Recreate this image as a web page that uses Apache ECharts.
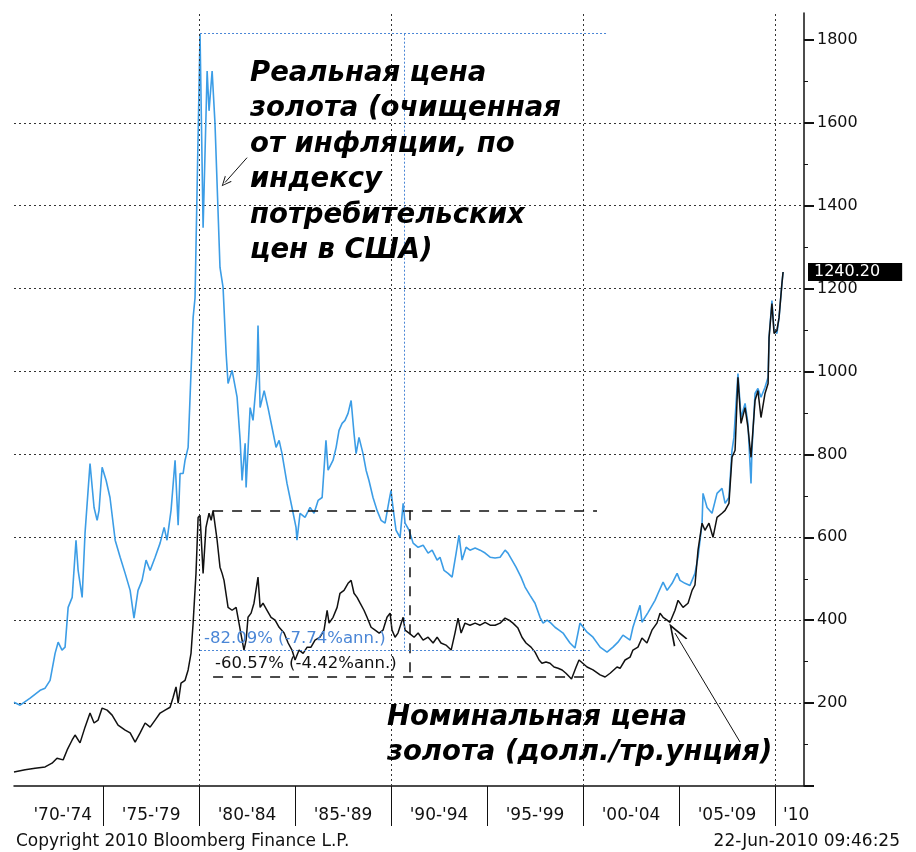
<!DOCTYPE html>
<html><head><meta charset="utf-8">
<script src="https://cdn.jsdelivr.net/npm/echarts@6/dist/echarts.min.js"></script>
<style>html,body{margin:0;padding:0;background:#fff}#c{width:916px;height:852px}</style>
</head><body><div id="c"></div>
<script>
// Real (inflation-adjusted, CPI) gold price, [year, USD]
const realPrice = [
[1970.36,202],[1970.68,195],[1971.20,212],[1971.72,231],[1971.98,236],[1972.24,255],[1972.50,320],[1972.66,347],[1972.86,328],[1973.02,335],
[1973.18,431],[1973.39,455],[1973.59,593],[1973.70,520],[1973.91,455],[1974.06,610],[1974.32,778],[1974.53,672],[1974.69,641],[1974.79,665],
[1974.95,769],[1975.16,737],[1975.36,696],[1975.63,593],[1975.89,552],[1976.15,513],[1976.41,472],[1976.61,405],[1976.82,472],[1977.03,496],
[1977.24,545],[1977.45,520],[1977.71,552],[1977.97,586],[1978.18,624],[1978.33,593],[1978.54,665],[1978.75,786],[1978.91,629],[1979.01,754],
[1979.17,754],[1979.27,786],[1979.43,817],[1979.69,1130],[1979.79,1178],[1980.05,1815],[1980.21,1347],[1980.42,1725],[1980.52,1629],[1980.68,1725],
[1980.83,1598],[1981.09,1251],[1981.25,1203],[1981.41,1043],[1981.51,971],[1981.72,1003],[1981.98,938],[1982.14,834],[1982.24,737],[1982.40,827],
[1982.45,720],[1982.66,913],[1982.81,882],[1983.02,995],[1983.07,1111],[1983.18,913],[1983.39,954],[1983.59,913],[1983.80,865],[1984.01,817],
[1984.17,834],[1984.32,802],[1984.58,730],[1984.84,672],[1985.05,624],[1985.10,593],[1985.26,658],[1985.52,648],[1985.78,672],[1985.99,658],
[1986.20,689],[1986.41,696],[1986.61,834],[1986.72,762],[1986.98,786],[1987.14,817],[1987.29,858],[1987.45,875],[1987.60,882],[1987.76,899],
[1987.92,930],[1988.07,851],[1988.18,802],[1988.33,841],[1988.54,802],[1988.70,762],[1988.85,737],[1989.06,696],[1989.27,665],[1989.48,641],
[1989.69,634],[1989.90,689],[1990.00,713],[1990.10,672],[1990.26,617],[1990.47,600],[1990.63,682],[1990.73,634],[1990.94,617],[1991.15,586],
[1991.41,576],[1991.67,581],[1991.93,562],[1992.14,569],[1992.40,545],[1992.55,552],[1992.76,520],[1992.97,513],[1993.18,504],[1993.39,562],
[1993.54,605],[1993.70,545],[1993.91,576],[1994.11,569],[1994.38,574],[1994.64,569],[1994.90,562],[1995.16,552],[1995.42,550],[1995.68,552],
[1995.94,569],[1996.09,562],[1996.30,545],[1996.51,528],[1996.77,504],[1996.98,480],[1997.24,460],[1997.50,441],[1997.76,407],[1997.92,393],
[1998.13,400],[1998.33,393],[1998.54,383],[1998.75,376],[1998.96,369],[1999.11,359],[1999.32,345],[1999.58,333],[1999.84,393],[2000.21,371],
[2000.52,359],[2000.89,335],[2001.25,323],[2001.56,335],[2001.82,347],[2002.08,364],[2002.45,352],[2002.60,383],[2002.97,436],[2003.07,395],
[2003.39,419],[2003.75,448],[2003.91,465],[2004.17,492],[2004.38,472],[2004.64,489],[2004.90,513],[2005.05,496],[2005.31,489],[2005.57,484],
[2005.83,513],[2005.99,552],[2006.20,634],[2006.25,706],[2006.46,672],[2006.72,658],[2006.98,706],[2007.24,718],[2007.40,682],[2007.60,696],
[2007.76,810],[2007.86,841],[2008.07,995],[2008.23,889],[2008.44,923],[2008.59,875],[2008.75,730],[2008.80,810],[2008.96,947],[2009.11,959],
[2009.27,938],[2009.48,962],[2009.64,986],[2009.69,1082],[2009.84,1171],[2009.95,1099],[2010.10,1092],[2010.21,1130],[2010.36,1212],[2010.42,1240.2]
];
// Nominal gold price, USD per troy ounce, [year, USD]
const nominalPrice = [
[1970.36,34],[1970.94,39],[1971.46,43],[1971.98,46],[1972.34,55],[1972.60,67],[1972.92,63],[1973.13,87],[1973.39,111],[1973.54,123],
[1973.80,104],[1974.06,142],[1974.32,176],[1974.53,152],[1974.74,159],[1974.95,188],[1975.21,183],[1975.47,171],[1975.78,147],[1976.15,135],
[1976.41,128],[1976.67,106],[1976.93,128],[1977.19,152],[1977.45,142],[1977.71,159],[1977.97,176],[1978.23,183],[1978.49,190],[1978.65,214],
[1978.80,239],[1978.91,200],[1979.06,248],[1979.27,255],[1979.43,280],[1979.58,320],[1979.69,393],[1979.84,513],[1979.95,648],[1980.05,653],
[1980.21,513],[1980.36,624],[1980.52,658],[1980.63,641],[1980.73,665],[1980.94,593],[1981.09,528],[1981.20,513],[1981.30,496],[1981.51,431],
[1981.72,424],[1981.93,431],[1982.08,393],[1982.24,352],[1982.34,328],[1982.45,352],[1982.55,407],[1982.71,417],[1982.86,441],[1983.07,504],
[1983.18,431],[1983.33,441],[1983.54,424],[1983.75,407],[1983.96,400],[1984.17,383],[1984.43,369],[1984.64,345],[1984.84,328],[1985.00,304],
[1985.21,328],[1985.42,320],[1985.63,335],[1985.83,335],[1986.04,352],[1986.30,359],[1986.51,376],[1986.67,424],[1986.77,393],[1986.98,407],
[1987.19,431],[1987.34,465],[1987.55,472],[1987.76,489],[1987.92,496],[1988.07,465],[1988.23,455],[1988.39,441],[1988.59,424],[1988.75,407],
[1988.96,383],[1989.17,376],[1989.38,369],[1989.58,376],[1989.79,407],[1989.95,417],[1990.05,376],[1990.21,359],[1990.36,369],[1990.63,407],
[1990.73,376],[1990.94,369],[1991.20,359],[1991.41,369],[1991.67,352],[1991.93,359],[1992.19,345],[1992.40,359],[1992.60,345],[1992.86,340],
[1993.13,328],[1993.33,369],[1993.49,405],[1993.65,369],[1993.85,393],[1994.11,388],[1994.38,393],[1994.64,388],[1994.90,395],[1995.16,388],
[1995.42,388],[1995.68,393],[1995.94,405],[1996.15,400],[1996.35,393],[1996.61,381],[1996.82,359],[1997.03,345],[1997.29,335],[1997.50,323],
[1997.71,304],[1997.86,296],[1998.07,299],[1998.28,296],[1998.49,287],[1998.70,284],[1998.91,280],[1999.11,272],[1999.40,258],[1999.64,287],
[1999.79,304],[2000.21,287],[2000.52,280],[2000.89,268],[2001.15,263],[2001.41,272],[2001.77,287],[2001.93,284],[2002.19,304],[2002.45,311],
[2002.60,328],[2002.86,335],[2003.07,357],[2003.33,345],[2003.59,376],[2003.85,393],[2004.01,417],[2004.17,407],[2004.38,400],[2004.53,395],
[2004.79,424],[2004.95,448],[2005.21,431],[2005.47,441],[2005.68,472],[2005.83,485],[2005.99,569],[2006.20,634],[2006.35,617],[2006.56,634],
[2006.77,600],[2006.98,648],[2007.24,658],[2007.40,665],[2007.60,682],[2007.76,793],[2007.92,810],[2008.07,986],[2008.23,875],[2008.44,913],
[2008.59,865],[2008.75,793],[2008.96,930],[2009.11,954],[2009.27,889],[2009.48,947],[2009.64,971],[2009.69,1082],[2009.84,1164],[2009.95,1092],
[2010.10,1099],[2010.21,1130],[2010.36,1212],[2010.42,1240.2]
];
const periodLabels  = ["'70-'74","'75-'79","'80-'84","'85-'89","'90-'94","'95-'99","'00-'04","'05-'09","'10"];
const periodCenters = [1972.9,1977.5,1982.5,1987.5,1992.5,1997.5,2002.5,2007.5,2011.1];
const periodTicks   = [1975,1980,1985,1990,1995,2000,2005,2010];
const decadeLines   = [1980,1990,2000,2010];
const yTicks        = [0,200,400,600,800,1000,1200,1400,1600,1800];
const lastValue = 1240.20;
// Bloomberg "measure" annotations (data space)
const realMeasure = {start:1980.05, end:2001.25, lowEnd:2000.36, mid:1990.68, high:1815, low:328, text:'-82.09% (-7.74%ann.)'};
const nomMeasure  = {start:1980.73, end:2000.73, lowEnd:2000.36, mid:1990.99, high:665, low:263, text:'-60.57% (-4.42%ann.)'};
const realArrow = [[1982.50,1516],[1981.35,1456]];
const nomArrow  = [[2008.18,106],[2004.79,369]];
const realTitle = 'Реальная цена\nзолота (очищенная\nот инфляции, по\nиндексу\nпотребительских\nцен в США)';
const nomTitle  = 'Номинальная цена\nзолота (долл./тр.унция)';

const FONT = '"DejaVu Sans", Verdana, sans-serif';
const BLUE = '#3c9de6';
const MBLUE = '#4a86d6';
const arrowHead = 'path://M0,12 L6,0 L12,12 L10.6,12 L6,2.6 L1.4,12 Z';

const chart = echarts.init(document.getElementById('c'), null, {renderer:'canvas'});
const dotted = {type:[2,3], color:'#333', width:1};
const dashed = {type:[10,9], color:'#111', width:1.5};
const blueDot = {type:[2,2], color:MBLUE, width:1};

chart.setOption({
  backgroundColor:'#fff',
  animation:false,
  grid:{left:14, right:112, top:13, bottom:66},
  xAxis:{
    type:'value', min:1970.36, max:2011.51,
    axisLine:{show:true, onZero:false, lineStyle:{color:'#111', width:1.5}},
    axisTick:{show:true, customValues:periodTicks, length:40, lineStyle:{color:'#111', width:1}},
    axisLabel:{customValues:periodCenters, margin:21, fontSize:17, fontFamily:FONT, color:'#111',
      formatter:function(v){ let best=0; for(let i=0;i<periodCenters.length;i++){ if(Math.abs(periodCenters[i]-v)<Math.abs(periodCenters[best]-v)) best=i;} return periodLabels[best]; }},
    splitLine:{show:false}
  },
  yAxis:{
    type:'value', position:'right', min:0, max:1865, interval:200,
    axisLine:{show:true, lineStyle:{color:'#111', width:1.5}},
    axisTick:{show:true, customValues:yTicks, length:10, lineStyle:{color:'#111', width:2}},
    minorTick:{show:true, splitNumber:2, length:4, lineStyle:{color:'#111'}},
    axisLabel:{fontSize:16, fontFamily:FONT, color:'#111', margin:13,
      formatter:function(v){ return (v>0 && v<=1800 && v%200===0) ? String(v) : ''; }},
    splitLine:{show:true, showMaxLine:false, showMinLine:false, lineStyle:dotted}
  },
  series:[
    {
      name:'nominal', type:'line', data:nominalPrice, showSymbol:false, clip:false, z:4,
      lineStyle:{color:'#111', width:1.5},
      markLine:{
        silent:true, symbol:'none', animation:false, label:{show:false},
        data:[
          ...decadeLines.map(x=>({xAxis:x, lineStyle:dotted})),
          [{coord:[nomMeasure.start,nomMeasure.high], lineStyle:dashed},{coord:[nomMeasure.end,nomMeasure.high]}],
          [{coord:[nomMeasure.start,nomMeasure.low], lineStyle:dashed},{coord:[nomMeasure.lowEnd,nomMeasure.low]}],
          [{coord:[nomMeasure.mid,nomMeasure.high], lineStyle:dashed},{coord:[nomMeasure.mid,nomMeasure.low]}],
          [{coord:nomArrow[0], symbol:'none', lineStyle:{color:'#111', width:1, type:'solid'}},{coord:nomArrow[1], symbol:arrowHead, symbolSize:[16,22]}],
          [{coord:realArrow[0], symbol:'none', lineStyle:{color:'#111', width:1, type:'solid'}},{coord:realArrow[1], symbol:arrowHead, symbolSize:[9,10]}]
        ]
      }
    },
    {
      name:'real', type:'line', data:realPrice, showSymbol:false, clip:false, z:3,
      lineStyle:{color:BLUE, width:1.6},
      markLine:{
        silent:true, symbol:'none', animation:false, label:{show:false},
        data:[
          [{coord:[realMeasure.start,realMeasure.high], lineStyle:blueDot},{coord:[realMeasure.end,realMeasure.high]}],
          [{coord:[realMeasure.start,realMeasure.low], lineStyle:blueDot},{coord:[realMeasure.lowEnd,realMeasure.low]}],
          [{coord:[realMeasure.mid,realMeasure.high], lineStyle:blueDot},{coord:[realMeasure.mid,realMeasure.low]}]
        ]
      }
    },
    {
      name:'last', type:'line', data:[], clip:false, z:6,
      markLine:{
        silent:true, symbol:'none', animation:false,
        data:[
          {yAxis:lastValue, lineStyle:{color:'rgba(0,0,0,0)', width:1},
           label:{show:true, position:'end', distance:4, opacity:1, formatter:lastValue.toFixed(2),
             backgroundColor:'#000', color:'#fff', fontSize:16, fontFamily:FONT, padding:[1,22,1,6]}}
        ]
      }
    }
  ],
  graphic:[
    {type:'text', left:250, top:56, z:10, style:{text:realTitle, fill:'#000', font:'italic bold 27.5px '+FONT, lineHeight:35.5}},
    {type:'text', left:387, top:700, z:10, style:{text:nomTitle, fill:'#000', font:'italic bold 27.5px '+FONT, lineHeight:35}},
    {type:'text', left:204, top:630, z:10, style:{text:realMeasure.text, fill:MBLUE, font:'16.5px '+FONT}},
    {type:'text', left:215, top:655, z:10, style:{text:nomMeasure.text, fill:'#111', font:'16.5px '+FONT}},
    {type:'text', left:16, top:833, z:10, style:{text:'Copyright 2010 Bloomberg Finance L.P.', fill:'#111', font:'17px '+FONT}},
    {type:'text', right:16, top:833, z:10, style:{text:'22-Jun-2010 09:46:25', fill:'#111', font:'17px '+FONT}}
  ]
});
</script></body></html>
